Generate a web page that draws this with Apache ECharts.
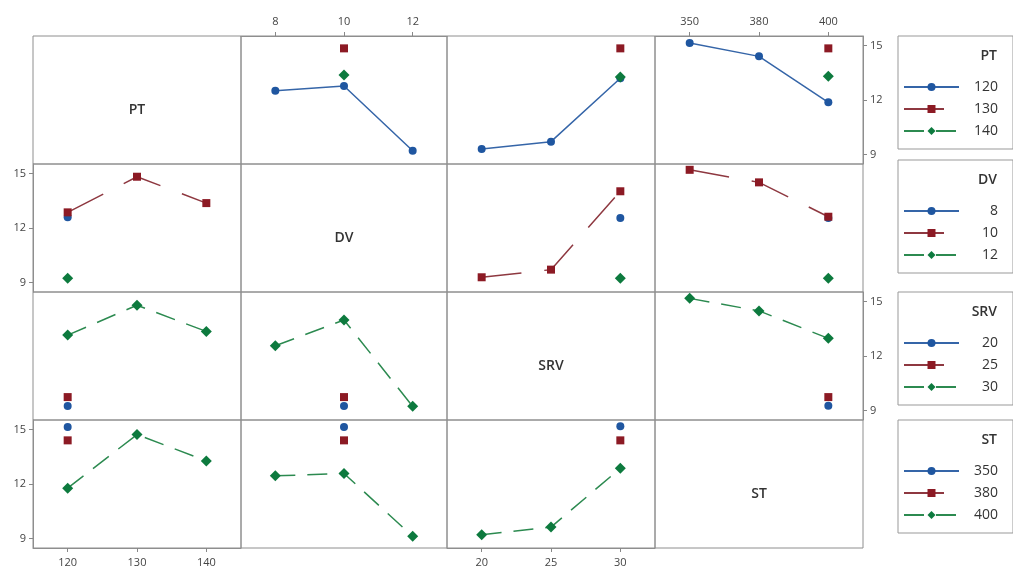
<!DOCTYPE html>
<html><head><meta charset="utf-8">
<script src="https://cdn.jsdelivr.net/npm/echarts@6/dist/echarts.min.js"></script>
<style>html,body{margin:0;padding:0;background:#fff}#c{width:1013px;height:572px}</style>
</head><body><div id="c"></div>
<script>
// ---- data ----
const factors = ['PT', 'DV', 'SRV', 'ST'];
const PT_levels = ['120', '130', '140'];
const DV_levels = ['8', '10', '12'];
const SRV_levels = ['20', '25', '30'];
const ST_levels = ['350', '380', '400'];
const yTicks = [9, 12, 15];

// rows of each array = levels of the trace factor (row), columns = levels of x factor
const PT_vs_DV  = [[12.51, 12.77, 9.21], [null, 14.84, null], [null, 13.37, null]];
const PT_vs_SRV = [[9.31, 9.71, 13.20], [null, null, 14.84], [null, null, 13.26]];
const PT_vs_ST  = [[15.13, 14.40, 11.87], [null, null, 14.84], [null, null, 13.30]];
const DV_vs_PT  = [[12.59, null, null], [12.86, 14.82, 13.37], [9.24, null, null]];
const DV_vs_SRV = [[null, null, 12.55], [9.29, 9.71, 14.02], [null, null, 9.24]];
const DV_vs_ST  = [[null, null, 12.55], [15.20, 14.51, 12.62], [null, null, 9.24]];
const SRV_vs_PT = [[9.25, null, null], [9.74, null, null], [13.15, 14.79, 13.35]];
const SRV_vs_DV = [[null, 9.25, null], [null, 9.74, null], [12.56, 13.98, 9.23]];
const SRV_vs_ST = [[null, null, 9.27], [null, null, 9.74], [15.17, 14.48, 12.97]];
const ST_vs_PT  = [[15.13, null, null], [14.40, null, null], [11.77, 14.72, 13.27]];
const ST_vs_DV  = [[null, 15.13, null], [null, 14.40, null], [12.45, 12.58, 9.12]];
const ST_vs_SRV = [[null, null, 15.17], [null, null, 14.40], [9.21, 9.63, 12.86]];

// ---- layout / style ----
const levels = [PT_levels, DV_levels, SRV_levels, ST_levels];
const panels = [
  [null, PT_vs_DV, PT_vs_SRV, PT_vs_ST],
  [DV_vs_PT, null, DV_vs_SRV, DV_vs_ST],
  [SRV_vs_PT, SRV_vs_DV, null, SRV_vs_ST],
  [ST_vs_PT, ST_vs_DV, ST_vs_SRV, null]
];
const colEdges = [33, 241, 447, 655, 863];
const rowEdges = [36, 164, 292, 420, 548];
const legendTops = [36, 160, 292, 420];
const FONT = '"Open Sans", "Noto Sans", sans-serif';
const markColors = ['#1f56a0', '#8c1a24', '#0d7a3e'];
const lineColors = ['#3565a8', '#8e3840', '#2c8a50'];
const symbols = ['circle', 'rect', 'diamond'];
const symbolSizes = [8, 8, 11];
const dashes = ['solid', [40, 23], [20, 12]];
const borderCol = '#8e8e8e';

const grids = [], xAxes = [], yAxes = [], series = [], graphics = [];
for (let r = 0; r < 4; r++) {
  for (let c = 0; c < 4; c++) {
    const idx = grids.length;
    const L = colEdges[c], W = colEdges[c + 1] - colEdges[c];
    const T = rowEdges[r], H = rowEdges[r + 1] - rowEdges[r];
    grids.push({ left: L, top: T, width: W, height: H, show: true,
      borderColor: borderCol, borderWidth: 1, backgroundColor: 'transparent' });
    const topX = r === 0 && (c === 1 || c === 3);
    const botX = r === 3 && (c === 0 || c === 2);
    const showX = topX || botX;
    xAxes.push({ type: 'category', gridIndex: idx, data: levels[c], boundaryGap: true,
      position: topX ? 'top' : 'bottom',
      axisLine: { show: showX, lineStyle: { color: borderCol } },
      axisTick: { show: showX, alignWithLabel: true, length: 4, lineStyle: { color: '#888' } },
      axisLabel: { show: showX, fontSize: 11, color: '#444', margin: 9, fontFamily: FONT },
      splitLine: { show: false } });
    const leftY = c === 0 && (r === 1 || r === 3);
    const rightY = c === 3 && (r === 0 || r === 2);
    const showY = leftY || rightY;
    yAxes.push({ type: 'value', gridIndex: idx, min: 8.48, max: 15.52,
      position: rightY ? 'right' : 'left',
      axisLine: { show: showY, lineStyle: { color: borderCol } },
      axisTick: { show: showY, customValues: yTicks, length: 4, lineStyle: { color: '#888' } },
      axisLabel: { show: showY, customValues: yTicks, fontSize: 11, color: '#444', margin: 7, fontFamily: FONT },
      splitLine: { show: false } });
    if (r === c) {
      graphics.push({ type: 'text', x: L + W / 2, y: T + H / 2 + 10,
        style: { text: factors[r], fill: '#333', font: '600 14px ' + FONT, textAlign: 'center', textVerticalAlign: 'middle' } });
    } else {
      const d = panels[r][c];
      for (let k = 0; k < 3; k++) {
        series.push({ type: 'line', name: factors[r] + ' ' + levels[r][k],
          xAxisIndex: idx, yAxisIndex: idx, data: d[k],
          symbol: symbols[k], symbolSize: symbolSizes[k], showSymbol: true, showAllSymbol: true,
          connectNulls: false, animation: false,
          itemStyle: { color: markColors[k] },
          lineStyle: { color: lineColors[k], width: 1.5, type: dashes[k] },
          emphasis: { disabled: true } });
      }
    }
  }
}

const legends = factors.map((f, r) => ({
  orient: 'vertical', left: 898, top: legendTops[r],
  itemWidth: 55, itemHeight: 10, itemGap: 8,
  padding: [44, 15, 11, 5], borderColor: '#999', borderWidth: 1,
  selectedMode: false,
  data: levels[r].map(l => f + ' ' + l),
  formatter: name => '{v|' + name.split(' ')[1] + '}',
  textStyle: { fontFamily: FONT, rich: { v: { width: 34, align: 'right', fontSize: 14, color: '#333', fontFamily: FONT } } }
}));
factors.forEach((f, r) => {
  graphics.push({ type: 'text', x: 997, y: legendTops[r] + 20,
    style: { text: f, fill: '#333', font: '600 14px ' + FONT, textAlign: 'right', textVerticalAlign: 'middle' } });
});

const chart = echarts.init(document.getElementById('c'), null, { renderer: 'canvas' });
chart.setOption({
  animation: false,
  backgroundColor: '#fff',
  grid: grids, xAxis: xAxes, yAxis: yAxes, series: series,
  legend: legends, graphic: graphics,
  tooltip: { show: false }
});
</script></body></html>
